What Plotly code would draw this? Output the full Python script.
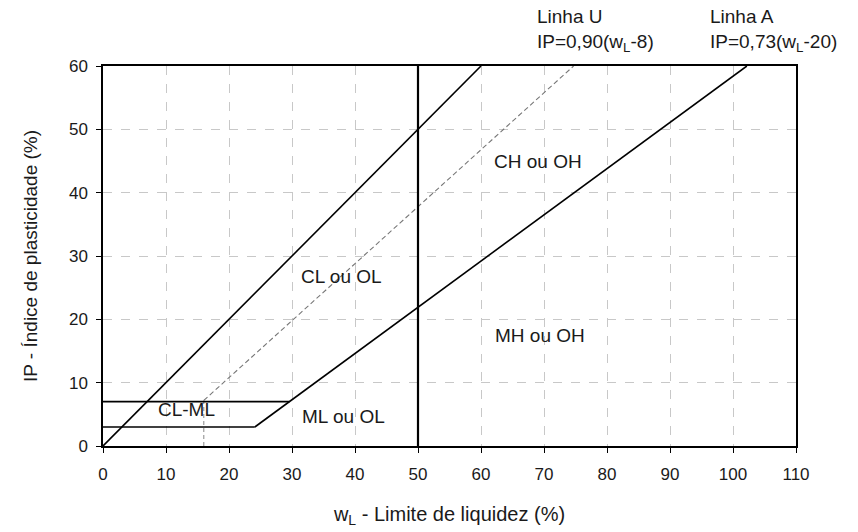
import plotly.graph_objects as go

# Data
diag_x = [0, 60]
diag_y = [0, 60]
u_line_x = [16, 74.7]
u_line_y = [7.2, 60]
u_drop_x = [16, 16]
u_drop_y = [0, 7.2]
a_line_x = [24.1, 102.2]
a_line_y = [3, 60]
upper_h_x = [0, 29.6]
upper_h_y = [7, 7]
lower_h_x = [0, 24.1]
lower_h_y = [3, 3]
v50_x = [50, 50]
v50_y = [0, 60]

zone_labels = ["CH ou OH", "CL ou OL", "MH ou OH", "ML ou OL", "CL-ML"]
zone_x = [69.0, 37.8, 69.4, 38.1, 13.3]
zone_y = [45, 26.8, 17.4, 4.7, 5.7]

x_ticks = [0, 10, 20, 30, 40, 50, 60, 70, 80, 90, 100, 110]
y_ticks = [0, 10, 20, 30, 40, 50, 60]

FONT = "Liberation Sans, Arial, sans-serif"
TXT = "#1a1a1a"

fig = go.Figure()

def seg(x, y, color="#000000", width=1.6, dash="solid"):
    fig.add_trace(go.Scatter(x=x, y=y, mode="lines",
                             line=dict(color=color, width=width, dash=dash),
                             showlegend=False, hoverinfo="skip"))

seg(u_drop_x, u_drop_y, color="#888888", width=1, dash="4px,3px")
seg(u_line_x, u_line_y, color="#777777", width=1.1, dash="5px,3px")
seg(diag_x, diag_y)
seg(a_line_x, a_line_y)
seg(upper_h_x, upper_h_y)
seg(lower_h_x, lower_h_y)
seg(v50_x, v50_y, width=2.2)

for lbl, x, y in zip(zone_labels, zone_x, zone_y):
    fig.add_annotation(x=x, y=y, text=lbl, showarrow=False,
                       font=dict(family=FONT, size=19, color=TXT))

fig.add_annotation(xref="paper", yref="paper", x=(535 - 103) / 693, y=1 + (66 - 4) / 380,
                   xanchor="left", yanchor="top", align="left", showarrow=False,
                   text="Linha U<br>IP=0,90(w<sub>L</sub>-8)",
                   font=dict(family=FONT, size=19, color=TXT))
fig.add_annotation(xref="paper", yref="paper", x=(708 - 103) / 693, y=1 + (66 - 4) / 380,
                   xanchor="left", yanchor="top", align="left", showarrow=False,
                   text="Linha A<br>IP=0,73(w<sub>L</sub>-20)",
                   font=dict(family=FONT, size=19, color=TXT))

axis_common = dict(
    showline=True, linecolor="#000000", linewidth=1.5, mirror=True,
    showgrid=True, gridcolor="#c8c8c8", griddash="dash", gridwidth=1,
    zeroline=False, ticks="outside", ticklen=5, tickcolor="#000000",
    tickfont=dict(family=FONT, size=17, color=TXT), automargin=False,
)

fig.update_xaxes(range=[0, 110], tickvals=x_ticks, ticklabelstandoff=7, **axis_common,
                 title=dict(text="w<sub>L</sub> - Limite de liquidez (%)",
                            font=dict(family=FONT, size=20, color=TXT), standoff=24))
fig.update_yaxes(range=[0, 60], tickvals=y_ticks, ticklabelstandoff=5, **axis_common,
                 title=dict(text="IP - Índice de plasticidade (%)",
                            font=dict(family=FONT, size=19, color=TXT), standoff=26))

fig.update_layout(
    width=858, height=532,
    margin=dict(l=103, r=62, t=66, b=86),
    paper_bgcolor="white", plot_bgcolor="white",
    showlegend=False,
)

fig.write_html("out.html")
